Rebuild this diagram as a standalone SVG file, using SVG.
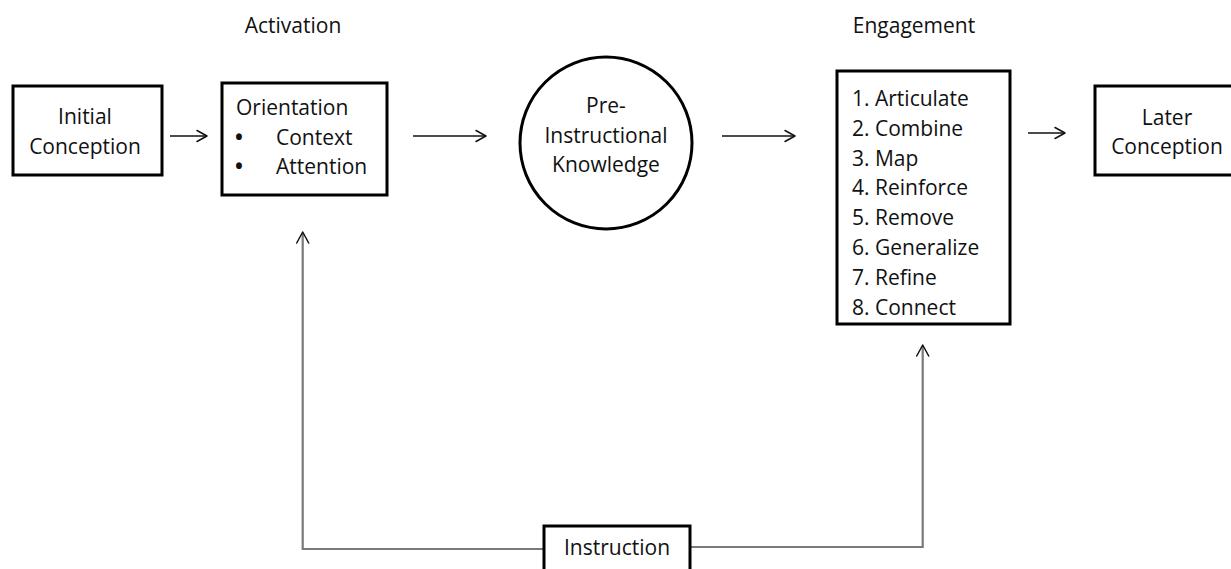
<svg xmlns="http://www.w3.org/2000/svg" width="1231" height="569" viewBox="0 0 1231 569">
<style>
text{font-family:"Open Sans","Noto Sans","Liberation Sans",sans-serif;font-size:21px;fill:#111}
.box{fill:#fff;stroke:#000;stroke-width:3}
.c{text-anchor:middle}
.b{text-anchor:middle;font-weight:bold}
.arr{stroke:#111;stroke-width:1.3;fill:none}
.feed{stroke:#7a7a7a;stroke-width:2.2;fill:none}
.head{stroke:#111;stroke-width:1.5;fill:none;stroke-linecap:round;stroke-linejoin:round}
</style>
<rect width="1231" height="569" fill="#fff"/>
<g id="titles">
<text class="c" x="293" y="33">Activation</text>
<text class="c" x="914" y="33">Engagement</text>
</g>
<g id="connectors">
<line class="arr" x1="170" y1="136" x2="207" y2="136"/>
<polyline class="head" points="197,130.5 207,136 197,141.5"/>
<line class="arr" x1="413" y1="136" x2="486" y2="136"/>
<polyline class="head" points="476,130.5 486,136 476,141.5"/>
<line class="arr" x1="722" y1="136" x2="795" y2="136"/>
<polyline class="head" points="785,130.5 795,136 785,141.5"/>
<line class="arr" x1="1028" y1="133" x2="1065" y2="133"/>
<polyline class="head" points="1055,127.5 1065,133 1055,138.5"/>
<polyline class="feed" points="544,549 302.7,549 302.7,233"/>
<polyline class="head" points="296.7,243 302.7,232 308.7,243"/>
<polyline class="feed" points="690,547 922.7,547 922.7,346"/>
<polyline class="head" points="916.7,356 922.7,345 928.7,356"/>
</g>
<g id="initial">
<rect class="box" x="13" y="86" width="149" height="89"/>
<text class="c" x="85" y="124">Initial</text>
<text class="c" x="85" y="154">Conception</text>
</g>
<g id="orientation">
<rect class="box" x="222" y="83" width="165" height="112"/>
<text x="236" y="115">Orientation</text>
<text class="b" x="239" y="145">•</text>
<text x="276" y="145">Context</text>
<text class="b" x="239" y="174">•</text>
<text x="276" y="174">Attention</text>
</g>
<g id="preinstructional">
<circle cx="606" cy="143" r="86" fill="#fff" stroke="#000" stroke-width="3"/>
<text class="c" x="606" y="113">Pre-</text>
<text class="c" x="606" y="143">Instructional</text>
<text class="c" x="606" y="172">Knowledge</text>
</g>
<g id="engagement">
<rect class="box" x="837" y="71" width="173" height="253"/>
<text x="852" y="105.7">1. Articulate</text>
<text x="852" y="135.6">2. Combine</text>
<text x="852" y="165.5">3. Map</text>
<text x="852" y="195.4">4. Reinforce</text>
<text x="852" y="225.3">5. Remove</text>
<text x="852" y="255.2">6. Generalize</text>
<text x="852" y="285.1">7. Refine</text>
<text x="852" y="315">8. Connect</text>
</g>
<g id="later">
<rect class="box" x="1095" y="86" width="150" height="89"/>
<text class="c" x="1167" y="125">Later</text>
<text class="c" x="1167" y="154">Conception</text>
</g>
<g id="instruction">
<rect class="box" x="544" y="526" width="146" height="60"/>
<text class="c" x="617" y="555">Instruction</text>
</g>
</svg>
